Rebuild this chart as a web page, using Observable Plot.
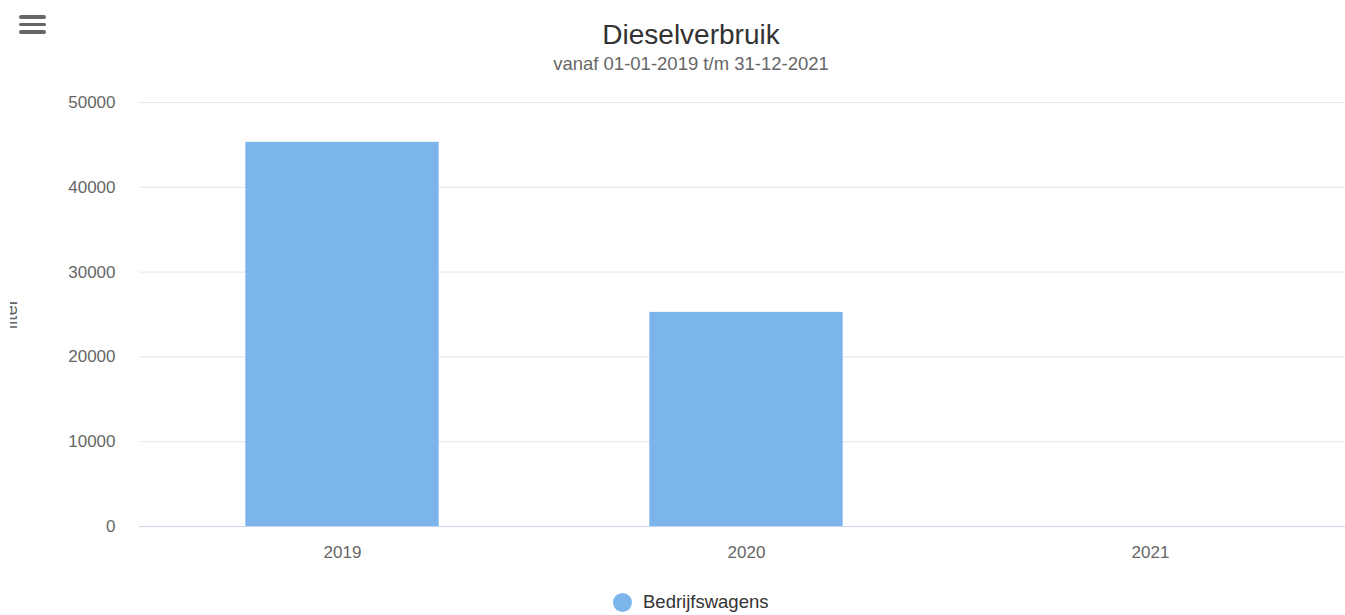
<!DOCTYPE html>
<html>
<head>
<meta charset="utf-8">
<script src="https://cdn.jsdelivr.net/npm/d3@7"></script>
<script src="https://cdn.jsdelivr.net/npm/@observablehq/plot@0.6"></script>
<style>
  html, body { margin: 0; padding: 0; background: #fff; }
  body { font-family: "Liberation Sans", Arial, sans-serif; width: 1345px; height: 615px; overflow: hidden; }
  #head { position: relative; height: 80px; }
  #title { position: absolute; left: 691px; top: 21px; transform: translateX(-50%); font-size: 28px; line-height: 28px; color: #333333; white-space: nowrap; }
  #subtitle { position: absolute; left: 691px; top: 55px; transform: translateX(-50%); font-size: 18.5px; line-height: 18.5px; color: #666666; white-space: nowrap; }
  .bar { position: absolute; left: 19px; width: 27px; height: 3.6px; border-radius: 2px; background: #666666; }
  #legend { position: relative; height: 35px; }
  #legend .dot { position: absolute; left: 613px; top: 13px; width: 19px; height: 19px; border-radius: 50%; }
  #legend .lab { position: absolute; left: 643px; top: 13px; font-size: 18.5px; line-height: 18.5px; color: #333333; white-space: nowrap; }
</style>
</head>
<body>
<div id="head">
  <div class="bar" style="top:15px"></div>
  <div class="bar" style="top:22.6px"></div>
  <div class="bar" style="top:30.4px"></div>
  <div id="title"></div>
  <div id="subtitle"></div>
</div>
<div id="chart"></div>
<div id="legend"><div class="dot"></div><div class="lab"></div></div>
<script>
const titleText = "Dieselverbruik";
const subtitleText = "vanaf 01-01-2019 t/m 31-12-2021";
const yAxisTitle = "liter";
const seriesName = "Bedrijfswagens";
const seriesColor = "#7cb5ec";
const years = ["2019", "2020", "2021"];
const values = [45300, 25250, 0];
const yTicks = [0, 10000, 20000, 30000, 40000, 50000];

document.getElementById("title").textContent = titleText;
document.getElementById("subtitle").textContent = subtitleText;
document.querySelector("#legend .lab").textContent = seriesName;
document.querySelector("#legend .dot").style.background = seriesColor;

const data = years.map((y, i) => ({year: y, value: values[i]}));

const W = 1345, H = 500, ML = 139, MR = -8, MT = 22, MB = 54;
const bandW = (W - MR - ML) / years.length;
const inset = (bandW - 194) / 2;

const plot = Plot.plot({
  width: W,
  height: H,
  marginLeft: ML,
  marginRight: MR,
  marginTop: MT,
  marginBottom: MB,
  style: {fontFamily: "Liberation Sans, Arial, sans-serif", fontSize: "17px", color: "#666666", background: "#fff"},
  x: {domain: years, padding: 0, label: null},
  y: {domain: [0, 50000], label: null},
  marks: [
    Plot.gridY(yTicks.filter(d => d !== 0), {stroke: "#e6e6e6", strokeOpacity: 1, strokeWidth: 1}),
    Plot.barY(data, {x: "year", y: "value", fill: seriesColor, insetLeft: inset, insetRight: inset}),
    Plot.ruleY([0], {stroke: "#ccd6eb", strokeWidth: 1}),
    Plot.axisX({tickSize: 0, tickPadding: 19, fill: "#666666", fontSize: 17, label: null}),
    Plot.axisY({ticks: yTicks, tickFormat: d3.format("d"), tickSize: 0, tickPadding: 24, fill: "#666666", fontSize: 17, label: null})
  ]
});
document.getElementById("chart").appendChild(plot);

// y axis title, partially clipped as in the reference
const svg = d3.select(plot);
const yMid = MT + (H - MT - MB) / 2;
svg.append("defs").append("clipPath").attr("id", "ytclip")
  .append("rect").attr("x", 10).attr("y", 0).attr("width", 40).attr("height", H);
svg.append("g")
  .attr("clip-path", "url(#ytclip)")
  .append("text")
  .attr("transform", `translate(17,${yMid}) rotate(-90)`)
  .attr("text-anchor", "middle")
  .attr("fill", "#666666")
  .attr("font-size", 18.5)
  .text(yAxisTitle);
</script>
</body>
</html>
